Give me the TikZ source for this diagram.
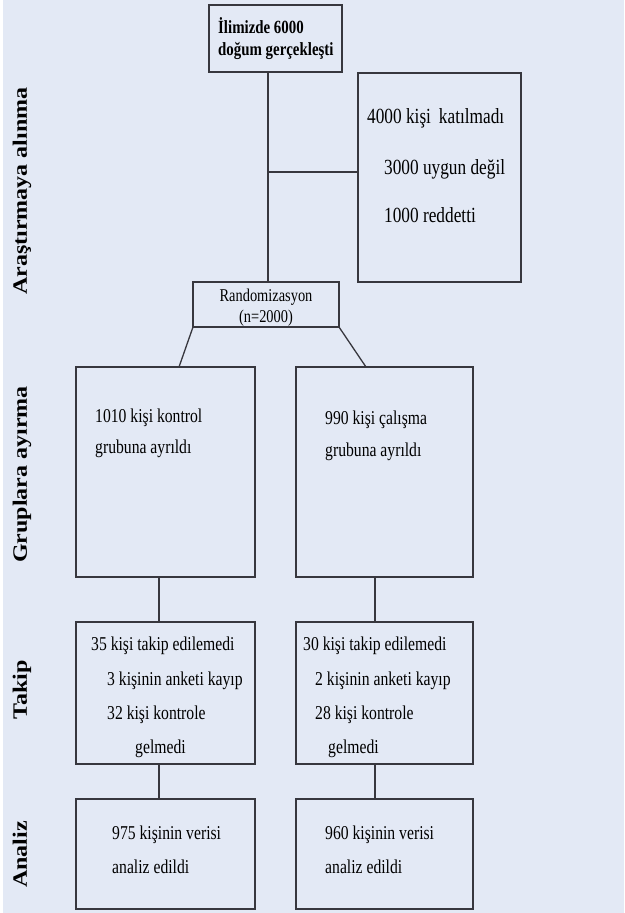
\documentclass[tikz,border=0pt]{standalone}
\usepackage{fontspec}
\setmainfont{Liberation Serif}[FakeStretch=0.8]
\newfontfamily\sidefont{Liberation Serif}
\usetikzlibrary{calc}
\definecolor{bg}{RGB}{227,233,245}
\definecolor{ln}{RGB}{55,55,62}
\begin{document}
\begin{tikzpicture}[x=1pt,y=-1pt,
  box/.style={draw=ln, line width=1.3pt, inner sep=0pt, outer sep=0pt, anchor=north west},
  conn/.style={draw=ln, line width=1.3pt},
  txt/.style={anchor=base west, inner sep=0pt, font=\fontsize{19.6}{23}\selectfont},
  bigtxt/.style={anchor=base west, inner sep=0pt, font=\fontsize{21.6}{25}\selectfont},
  toptxt/.style={anchor=base west, inner sep=0pt, font=\bfseries\fontsize{18.6}{22}\selectfont},
  randtxt/.style={anchor=base, inner sep=0pt, font=\fontsize{18}{21}\selectfont},
  side/.style={rotate=90, anchor=base west, inner sep=0pt, font=\sidefont\bfseries\fontsize{24}{28}\selectfont}]
\useasboundingbox (0,0) rectangle (624,913);
\fill[white] (0,0) rectangle (624,913);
\fill[bg] (3,0) rectangle (624,913);

% boxes
\node[box, minimum width=133pt, minimum height=67pt] (top) at (209,5) {};
\node[box, minimum width=163pt, minimum height=209pt] (excl) at (358,73) {};
\node[box, minimum width=146pt, minimum height=45pt] (rand) at (193,282) {};
\node[box, minimum width=179pt, minimum height=210pt] (gl) at (76,367) {};
\node[box, minimum width=177pt, minimum height=210pt] (gr) at (296,367) {};
\node[box, minimum width=179pt, minimum height=142pt] (tl) at (76,622) {};
\node[box, minimum width=177pt, minimum height=142pt] (tr) at (296,622) {};
\node[box, minimum width=179pt, minimum height=110pt] (al) at (76,799) {};
\node[box, minimum width=177pt, minimum height=110pt] (ar) at (296,799) {};

% connectors
\coordinate (j) at (268,172);
\draw[conn] (top.south -| j) -- (rand.north -| j);
\draw[conn] (j) -- (j -| excl.west);
\draw[conn] (rand.south west) -- ($(gl.north west)+(103,0)$);
\draw[conn] (rand.south east) -- ($(gr.north west)+(70,0)$);
\coordinate (cl) at ($(gl.south west)+(83,0)$);
\coordinate (cr) at ($(gr.south west)+(79,0)$);
\draw[conn] (cl) -- (cl |- tl.north);
\draw[conn] (cr) -- (cr |- tr.north);
\draw[conn] (cl |- tl.south) -- (cl |- al.north);
\draw[conn] (cr |- tr.south) -- (cr |- ar.north);

% texts
\node[toptxt] (t1) at (218,33) {İlimizde 6000};
\node[toptxt] (t2) at (218,55) {doğum gerçekleşti};

\node[bigtxt] (e1) at (367,123) {4000 kişi\, katılmadı};
\node[bigtxt] (e2) at (384,174) {3000 uygun değil};
\node[bigtxt] (e3) at (384,222) {1000 reddetti};

\node[randtxt] (r1) at (266,301) {Randomizasyon};
\node[randtxt] (r2) at (266,322) {(n=2000)};

\node[txt] (g1) at (95,422) {1010 kişi kontrol};
\node[txt] (g2) at (95,453) {grubuna ayrıldı};
\node[txt] (g3) at (325,424) {990 kişi çalışma};
\node[txt] (g4) at (325,456) {grubuna ayrıldı};

\node[txt] (k1) at (91,650) {35 kişi takip edilemedi};
\node[txt] (k2) at (107,685) {3 kişinin anketi kayıp};
\node[txt] (k3) at (107,719) {32 kişi kontrole};
\node[txt] (k4) at (135,753) {gelmedi};
\node[txt] (k5) at (303,650) {30 kişi takip edilemedi};
\node[txt] (k6) at (315,685) {2 kişinin anketi kayıp};
\node[txt] (k7) at (315,719) {28 kişi kontrole};
\node[txt] (k8) at (328,753) {gelmedi};

\node[txt] (a1) at (112,839) {975 kişinin verisi};
\node[txt] (a2) at (112,873) {analiz edildi};
\node[txt] (a3) at (325,839) {960 kişinin verisi};
\node[txt] (a4) at (325,873) {analiz edildi};

% side labels
\node[side] (s1) at (27,295) {\scalebox{1}[0.85]{Araştırmaya alınma}};
\node[side] (s2) at (27,563) {\scalebox{1}[0.85]{Gruplara ayırma}};
\node[side] (s3) at (27,720) {\scalebox{1}[0.85]{Takip}};
\node[side] (s4) at (27,888) {\scalebox{1}[0.85]{Analiz}};
\end{tikzpicture}
\end{document}
